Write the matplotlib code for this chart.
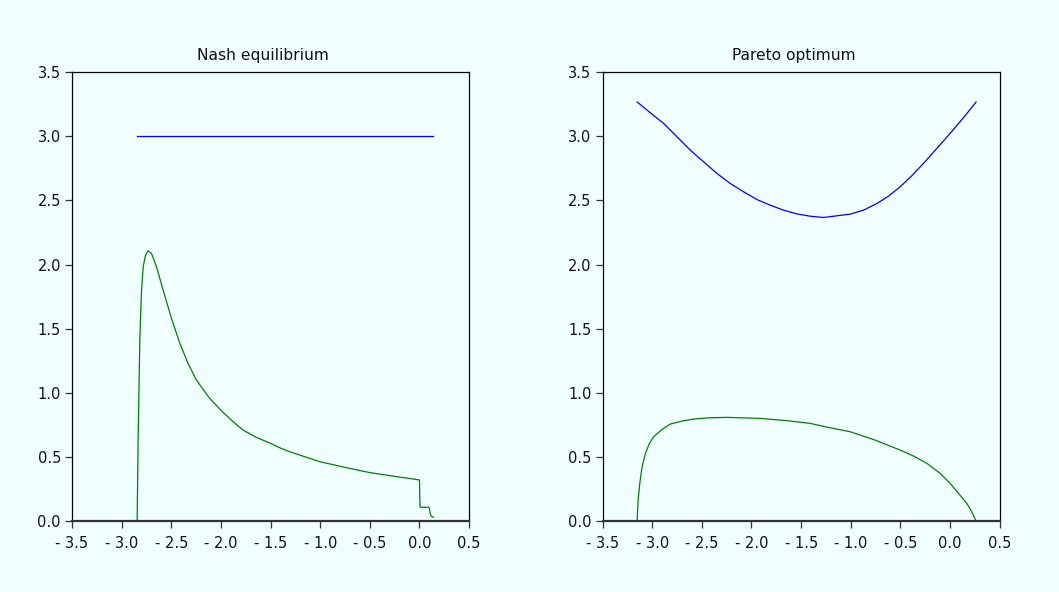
import matplotlib
matplotlib.use("Agg")
import matplotlib.pyplot as plt

plt.rcParams['font.family'] = ['DejaVu Sans']

BG = '#F0FFFF'

# Nash equilibrium
nash_blue_x = [-2.844, 0.141]
nash_blue_y = [3.0, 3.0]
nash_green_x = [-2.844, -2.834, -2.817, -2.800, -2.783, -2.760, -2.733, -2.699, -2.649, -2.582,
                -2.498, -2.414, -2.331, -2.247, -2.113, -2.002, -1.878, -1.777, -1.643, -1.499,
                -1.408, -1.308, -1.207, -1.003, -0.738, -0.500, -0.235, 0.0,
                0.002, 0.006, 0.094, 0.101, 0.107, 0.117, 0.141]
nash_green_y = [0.0, 0.631, 1.411, 1.800, 1.982, 2.073, 2.107, 2.086, 1.982, 1.800,
                1.580, 1.385, 1.229, 1.099, 0.956, 0.865, 0.774, 0.709, 0.652, 0.605,
                0.571, 0.540, 0.514, 0.462, 0.416, 0.377, 0.346, 0.320,
                0.200, 0.107, 0.107, 0.095, 0.060, 0.039, 0.029]

# Pareto optimum
pareto_blue_x = [-3.152, -3.018, -2.884, -2.750, -2.616, -2.482, -2.347, -2.213, -2.079, -1.945,
                 -1.811, -1.677, -1.543, -1.408, -1.275, -1.006, -0.872, -0.737, -0.620, -0.503,
                 -0.386, -0.269, -0.134, 0.0, 0.134, 0.262]
pareto_blue_y = [3.268, 3.183, 3.100, 2.996, 2.892, 2.801, 2.710, 2.632, 2.567, 2.507,
                 2.463, 2.424, 2.395, 2.377, 2.367, 2.393, 2.424, 2.476, 2.533, 2.606,
                 2.692, 2.788, 2.905, 3.022, 3.144, 3.268]
pareto_green_x = [-3.152, -3.142, -3.125, -3.102, -3.068, -3.028, -2.985, -2.901, -2.817, -2.700,
                  -2.582, -2.414, -2.246, -1.911, -1.643, -1.408, -1.258, -1.006, -0.755, -0.503,
                  -0.369, -0.235, -0.101, 0.0, 0.084, 0.168, 0.218, 0.262]
pareto_green_y = [0.0, 0.164, 0.294, 0.423, 0.528, 0.605, 0.657, 0.714, 0.756, 0.779,
                  0.795, 0.805, 0.808, 0.800, 0.782, 0.761, 0.735, 0.696, 0.631, 0.553,
                  0.507, 0.450, 0.372, 0.294, 0.216, 0.138, 0.073, 0.0]

titles = ['Nash equilibrium', 'Pareto optimum']
xticks = [-3.5, -3.0, -2.5, -2.0, -1.5, -1.0, -0.5, 0.0, 0.5]
yticks = [0.0, 0.5, 1.0, 1.5, 2.0, 2.5, 3.0, 3.5]


def fmt(v):
    s = f"{abs(v):.1f}"
    return ("- " + s) if v < 0 else s


fig = plt.figure(figsize=(10.59, 5.92), dpi=100, facecolor=BG)
ax1 = fig.add_axes([0.068, 0.12, 0.375, 0.758])
ax2 = fig.add_axes([0.569, 0.12, 0.375, 0.758])

ax1.plot(nash_blue_x, nash_blue_y, color='#0000FF', lw=0.9)
ax1.plot(nash_green_x, nash_green_y, color='#008000', lw=0.9)
ax2.plot(pareto_blue_x, pareto_blue_y, color='#0000FF', lw=0.9)
ax2.plot(pareto_green_x, pareto_green_y, color='#008000', lw=0.9)

for ax, t in zip([ax1, ax2], titles):
    ax.set_facecolor(BG)
    ax.set_xlim(-3.5, 0.5)
    ax.set_ylim(0, 3.5)
    ax.set_xticks(xticks)
    ax.set_xticklabels([fmt(v) for v in xticks])
    ax.set_yticks(yticks)
    ax.set_yticklabels([fmt(v) for v in yticks])
    ax.tick_params(direction='out', length=5, width=0.9, colors='#333333',
                   labelcolor='#111111', labelsize=10.5)
    ax.tick_params(axis='x', pad=6)
    ax.tick_params(axis='y', pad=3)
    for s in ['top', 'right', 'left']:
        ax.spines[s].set_color('black')
        ax.spines[s].set_linewidth(0.9)
    ax.spines['bottom'].set_color('#333333')
    ax.spines['bottom'].set_linewidth(1.6)
    ax.set_title(t, fontsize=11.2, pad=9, color='#111111', x=0.482)

fig.savefig('out.png', dpi=100, facecolor=BG)
